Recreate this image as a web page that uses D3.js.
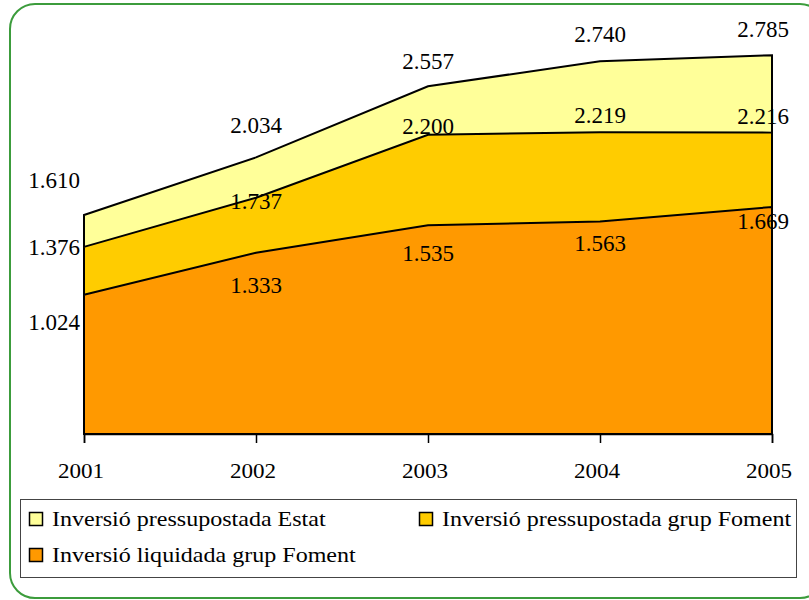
<!DOCTYPE html>
<html>
<head>
<meta charset="utf-8">
<script src="https://cdn.jsdelivr.net/npm/d3@7"></script>
<style>
  html, body { margin: 0; padding: 0; background: #fff; }
  svg { display: block; }
</style>
</head>
<body>
<svg id="chart" width="809" height="600"></svg>
<script>
// Investment per year (millions of euros), Catalan labels
const years = ["2001", "2002", "2003", "2004", "2005"];
const estat = [1.610, 2.034, 2.557, 2.740, 2.785];          // Inversió pressupostada Estat
const fomentPress = [1.376, 1.737, 2.200, 2.219, 2.216];    // Inversió pressupostada grup Foment
const fomentLiq = [1.024, 1.333, 1.535, 1.563, 1.669];      // Inversió liquidada grup Foment

const seriesNames = [
  "Inversió pressupostada Estat",
  "Inversió pressupostada grup Foment",
  "Inversió liquidada grup Foment"
];
const seriesColors = ["#FFFF99", "#FFCC00", "#FF9900"];

// Label placement (offsets from the data point, in px)
const labelDx = [-30, 0, 0, 0, -9];
const labelDy = [
  [-27, -24, -17, -19, -18],
  [8, 11, -1, -9, -9],
  [35, 40, 36, 30, 22]
];

const FONT = "Liberation Serif";
const fmt = v => d3.format(".3f")(v);

const svg = d3.select("#chart");

// Rounded green frame
svg.append("rect")
  .attr("x", 10).attr("y", 4)
  .attr("width", 815).attr("height", 594)
  .attr("rx", 25).attr("ry", 25)
  .attr("fill", "#fff")
  .attr("stroke", "#3c9c3c")
  .attr("stroke-width", 2);

const x = d3.scalePoint().domain(years).range([84, 772]);
const y = d3.scaleLinear().domain([0, 3]).range([434, 26]);

const series = [estat, fomentPress, fomentLiq];

const area = d3.area()
  .x((d, i) => x(years[i]))
  .y0(y(0))
  .y1(d => y(d));

// Areas overlap (each drawn from zero), largest first
series.forEach((vals, s) => {
  svg.append("path")
    .datum(vals)
    .attr("d", area)
    .attr("fill", seriesColors[s])
    .attr("stroke", "#000")
    .attr("stroke-width", 2);
});

// X axis
const xAxis = d3.axisBottom(x).tickSize(9).tickFormat("");
const gx = svg.append("g")
  .attr("transform", `translate(0,${y(0)})`)
  .call(xAxis);
gx.select(".domain").attr("stroke", "#000").attr("stroke-width", 1.5);
gx.selectAll(".tick line").attr("stroke", "#000").attr("stroke-width", 1.5);

svg.append("g").selectAll("text")
  .data(years)
  .join("text")
  .attr("transform", d => `translate(${x(d) - 3},478) scale(1.1,1)`)
  .attr("text-anchor", "middle")
  .attr("font-family", FONT)
  .attr("font-size", 21)
  .attr("fill", "#000")
  .text(d => d);

// Data labels
series.forEach((vals, s) => {
  svg.append("g").selectAll("text")
    .data(vals)
    .join("text")
    .attr("x", (d, i) => x(years[i]) + labelDx[i])
    .attr("y", (d, i) => y(d) + labelDy[s][i])
    .attr("text-anchor", "middle")
    .attr("font-family", FONT)
    .attr("font-size", 23)
    .attr("fill", "#000")
    .text(d => fmt(d));
});

// Legend
const legend = svg.append("g");
legend.append("rect")
  .attr("x", 20.5).attr("y", 499.5)
  .attr("width", 776).attr("height", 78)
  .attr("fill", "#fff")
  .attr("stroke", "#444")
  .attr("stroke-width", 1);

const legendPos = [
  { sx: 29, sy: 512 },
  { sx: 419, sy: 512 },
  { sx: 29, sy: 548 }
];
seriesNames.forEach((name, s) => {
  const p = legendPos[s];
  legend.append("rect")
    .attr("x", p.sx + 0.5).attr("y", p.sy + 0.5)
    .attr("width", 13).attr("height", 13)
    .attr("fill", seriesColors[s])
    .attr("stroke", "#000")
    .attr("stroke-width", 1.5);
  legend.append("text")
    .attr("transform", `translate(${p.sx + 23},${p.sy + 13.5}) scale(1.145,1)`)
    .attr("font-family", FONT)
    .attr("font-size", 21)
    .attr("fill", "#000")
    .text(name);
});
</script>
</body>
</html>
